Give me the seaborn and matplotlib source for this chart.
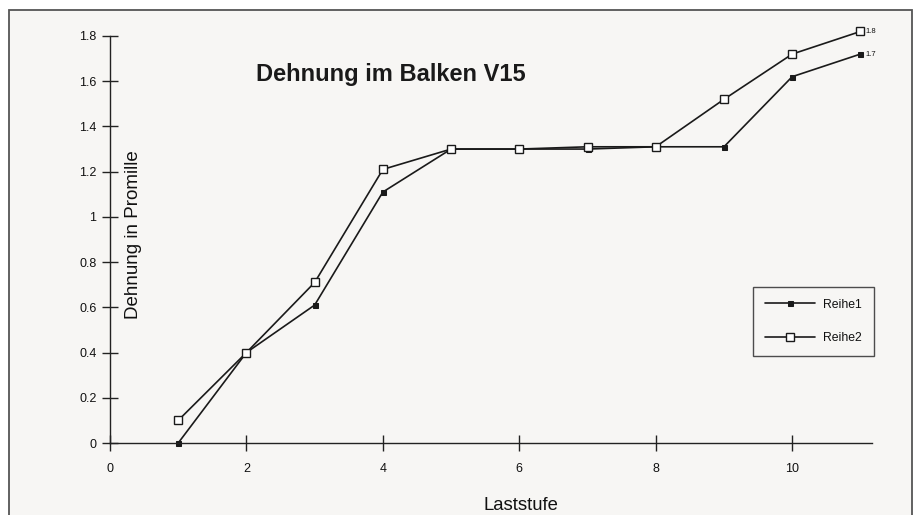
import matplotlib
matplotlib.use("Agg")
import matplotlib.pyplot as plt
import seaborn as sns
import pandas as pd
from matplotlib.patches import Rectangle

laststufe = [1, 2, 3, 4, 5, 6, 7, 8, 9, 10, 11]
reihe1 = [0.0, 0.40, 0.61, 1.11, 1.30, 1.30, 1.30, 1.31, 1.31, 1.62, 1.72]
reihe2 = [0.10, 0.40, 0.71, 1.21, 1.30, 1.30, 1.31, 1.31, 1.52, 1.72, 1.82]
x_ticks = [0, 2, 4, 6, 8, 10]
y_ticks = [0, 0.2, 0.4, 0.6, 0.8, 1.0, 1.2, 1.4, 1.6, 1.8]
y_ticklabels = ["0", "0.2", "0.4", "0.6", "0.8", "1", "1.2", "1.4", "1.6", "1.8"]

sns.set_theme(style="white")
plt.rcParams['font.family'] = ['Liberation Sans', 'DejaVu Sans']

bg = '#f7f6f4'
fig = plt.figure(figsize=(9.13, 5.15), dpi=100, facecolor='white')
fig.patches.append(Rectangle((9/913, -0.1), (912-9)/913, 1 - 10/515 + 0.1,
                             transform=fig.transFigure, facecolor=bg,
                             edgecolor='#555555', linewidth=1.3, zorder=-5))
ax = fig.add_axes([110/913, 1 - 443/515, (872-110)/913, (443-36)/515])
ax.set_facecolor('none')
ax.set_zorder(2)

df1 = pd.DataFrame({"Laststufe": laststufe, "Wert": reihe1})
df2 = pd.DataFrame({"Laststufe": laststufe, "Wert": reihe2})
sns.lineplot(data=df1, x="Laststufe", y="Wert", ax=ax, color='#1a1a1a', lw=1.2,
             marker='s', markersize=3.6, markerfacecolor='#1a1a1a',
             markeredgecolor='#1a1a1a', label='Reihe1')
sns.lineplot(data=df2, x="Laststufe", y="Wert", ax=ax, color='#1a1a1a', lw=1.2,
             marker='s', markersize=5.2, markerfacecolor='white',
             markeredgecolor='#1a1a1a', markeredgewidth=1.0, label='Reihe2')
for ln in ax.lines:
    ln.set_clip_on(False)

ax.set_xlim(0, 11.17)
ax.set_ylim(0, 1.8)
for s in ['top', 'right']:
    ax.spines[s].set_visible(False)
for s in ['left', 'bottom']:
    ax.spines[s].set_color('#222222')
    ax.spines[s].set_linewidth(1.0)
ax.spines['left'].set_bounds(0, 1.8)

ax.set_xticks(x_ticks)
ax.set_xticklabels([str(v) for v in x_ticks])
ax.set_yticks(y_ticks)
ax.set_yticklabels(y_ticklabels)
ax.tick_params(axis='x', direction='inout', length=11.5, width=1.0, color='#222222',
               labelsize=9, pad=9, labelcolor='#111111', bottom=True)
ax.tick_params(axis='y', direction='inout', length=11.5, width=1.0, color='#222222',
               labelsize=9, pad=4, labelcolor='#111111', left=True)

ax.set_xlabel("")
ax.set_ylabel("")
fig.text(521/913, 1 - 505/515, "Laststufe", fontsize=13.3, color='#111111',
         ha='center', va='center')
fig.text(133/913, 1 - 235/515, "Dehnung in Promille", rotation=90, fontsize=13.5,
         color='#111111', ha='center', va='center')
fig.text(391/913, 1 - 75/515, "Dehnung im Balken V15", fontsize=17,
         fontweight='bold', color='#1a1a1a', ha='center', va='center')

ax.annotate(f"{reihe2[-1]:.1f}", (laststufe[-1], reihe2[-1]), xytext=(3.5, 0),
            textcoords='offset points', fontsize=5.5, va='center', color='#111111',
            annotation_clip=False)
ax.annotate(f"{reihe1[-1]:.1f}", (laststufe[-1], reihe1[-1]), xytext=(3.5, 0),
            textcoords='offset points', fontsize=5.5, va='center', color='#111111',
            annotation_clip=False)

leg = ax.legend(loc='upper left', bbox_to_anchor=((753-110)/762, (443-287)/407),
                borderaxespad=0, frameon=True, fancybox=False, fontsize=8.8,
                handlelength=4.1, borderpad=0.95, labelspacing=1.75, handletextpad=0.7,
                facecolor='none', edgecolor='#222222')
leg.get_frame().set_linewidth(1.0)
for t in leg.get_texts():
    t.set_color('#111111')

fig.savefig("out.png", dpi=100, facecolor='white')
